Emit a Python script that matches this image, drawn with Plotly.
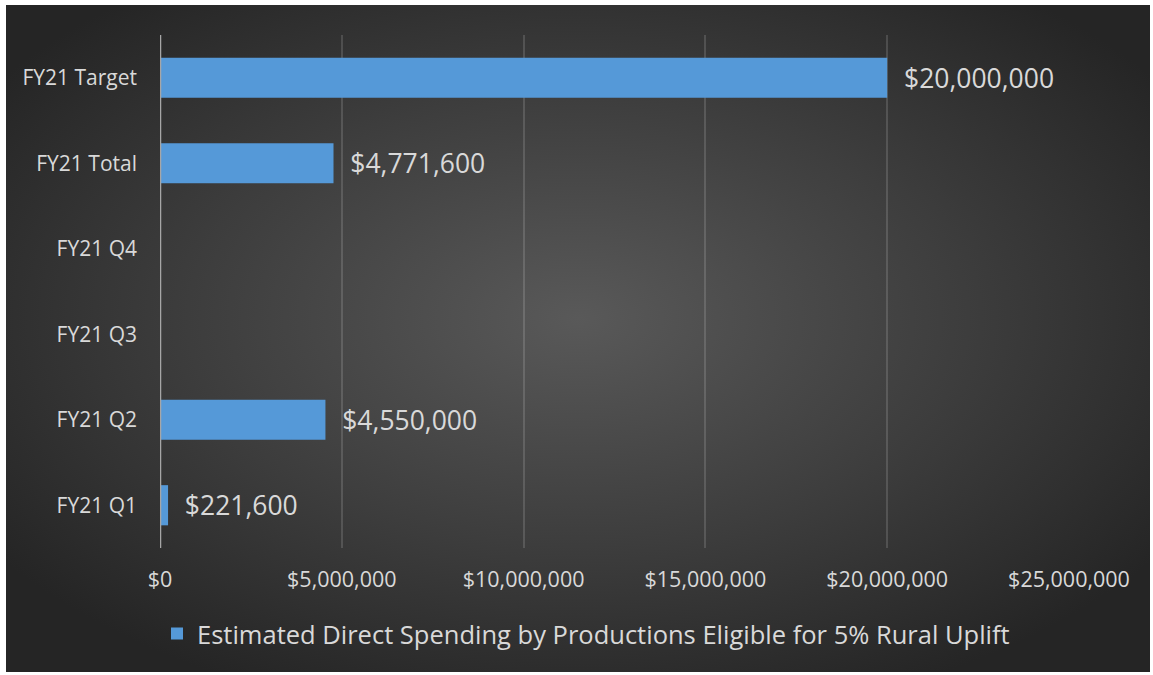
import base64
import plotly.graph_objects as go

# Quarterly and cumulative spending figures (bottom to top on the chart)
categories = ["FY21 Q1", "FY21 Q2", "FY21 Q3", "FY21 Q4", "FY21 Total", "FY21 Target"]
spending = [221600, 4550000, None, None, 4771600, 20000000]
series_name = "Estimated Direct Spending by Productions Eligible for 5% Rural Uplift"
x_ticks = [0, 5000000, 10000000, 15000000, 20000000, 25000000]
x_tick_labels = ["$0", "$5,000,000", "$10,000,000", "$15,000,000", "$20,000,000", "$25,000,000"]

W, H = 1153, 675
L, R, T, B = 160, 84, 35, 127
pw, ph = W - L - R, H - T - B

# Dark radial-gradient backdrop for the chart panel
svg = (
    '<svg xmlns="http://www.w3.org/2000/svg" width="1144" height="667" preserveAspectRatio="none">'
    '<defs><radialGradient id="g" cx="0.5" cy="0.47" r="0.62">'
    '<stop offset="0" stop-color="#595959"/>'
    '<stop offset="0.55" stop-color="#3d3d3d"/>'
    '<stop offset="1" stop-color="#252525"/>'
    '</radialGradient></defs>'
    '<rect width="1144" height="667" fill="url(#g)"/></svg>'
)
bg_src = "data:image/svg+xml;base64," + base64.b64encode(svg.encode()).decode()

panel_x0, panel_x1, panel_y0, panel_y1 = 6, 1150, 5, 672

fig = go.Figure()
fig.add_trace(go.Bar(
    y=categories,
    x=spending,
    orientation="h",
    name=series_name,
    marker=dict(color="#5599d8", line=dict(width=0)),
    width=0.47,
    text=[None if v is None else f"\u00a0\u00a0${v:,.0f}" for v in spending],
    textposition="outside",
    textfont=dict(family="Open Sans", size=26.5, color="#d9d9d9"),
    cliponaxis=False,
    showlegend=True,
))

fig.update_layout(
    width=W, height=H,
    margin=dict(l=L, r=R, t=T, b=B, pad=0),
    paper_bgcolor="white",
    plot_bgcolor="rgba(0,0,0,0)",
    font=dict(family="Open Sans", color="#d9d9d9"),
    bargap=0.53,
    images=[dict(
        source=bg_src,
        xref="paper", yref="paper",
        x=(panel_x0 - L) / pw,
        y=(H - B - panel_y0) / ph,
        sizex=(panel_x1 - panel_x0) / pw,
        sizey=(panel_y1 - panel_y0) / ph,
        xanchor="left", yanchor="top",
        sizing="stretch", layer="below",
    )],
    xaxis=dict(
        range=[0, 25000000],
        tickvals=x_ticks,
        ticktext=x_tick_labels,
        tickfont=dict(size=21.5, color="#d9d9d9"),
        showgrid=True,
        gridcolor="rgba(255,255,255,0.14)",
        gridwidth=1.5,
        zeroline=False,
        showline=False,
        ticks="",
        ticklabelstandoff=16,
    ),
    yaxis=dict(
        categoryorder="array",
        categoryarray=categories,
        tickfont=dict(size=21, color="#d9d9d9"),
        showgrid=False,
        zeroline=False,
        showline=False,
        ticks="",
        ticklabelstandoff=22,
    ),
    shapes=[dict(
        type="line", xref="x", yref="paper",
        x0=0, x1=0, y0=0, y1=1,
        line=dict(color="#a6a6a6", width=2.5),
        layer="above",
    )],
    legend=dict(
        orientation="h",
        xref="container", yref="container",
        x=586 / W, y=1 - 634 / H,
        xanchor="center", yanchor="middle",
        font=dict(size=25.5, color="#d9d9d9"),
        bgcolor="rgba(0,0,0,0)",
    ),
)

fig.write_html("out.html")
